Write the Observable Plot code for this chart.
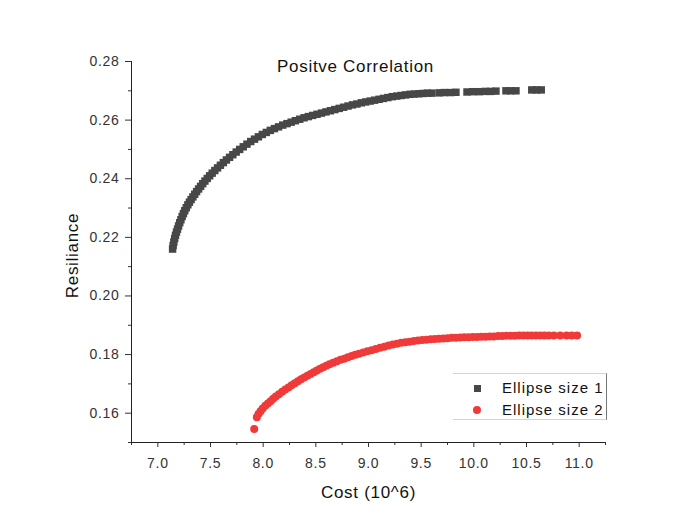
<!DOCTYPE html>
<html><head><meta charset="utf-8">
<script src="https://cdn.jsdelivr.net/npm/d3@7"></script>
<script src="https://cdn.jsdelivr.net/npm/@observablehq/plot@0.6"></script>
<style>
body{margin:0;background:#fff;}
#wrap{position:relative;width:688px;height:527px;font-family:"Liberation Sans",Arial,sans-serif;}
#wrap svg text{letter-spacing:0.7px;}
.legend{position:absolute;left:453px;top:373px;width:154px;height:47px;border-top:1px solid #d4d4d4;border-bottom:1px solid #d4d4d4;border-right:1px solid #777;box-sizing:border-box;}
.row{position:absolute;left:0;height:20px;line-height:20px;font-size:15px;letter-spacing:1px;color:#111;}
.mk{position:absolute;}
.txt{position:absolute;left:49px;top:0;white-space:nowrap;}
</style>
</head><body>
<div id="wrap"></div>
<script>
// Series "Ellipse size 1" (gray squares)
const s1X = [7.140,7.145,7.152,7.160,7.168,7.177,7.187,7.197,7.208,7.219,7.231,7.243,7.256,7.270,7.285,7.300,7.316,7.333,7.350,7.368,7.387,7.406,7.426,7.447,7.469,7.492,7.516,7.541,7.567,7.594,7.622,7.651,7.681,7.712,7.744,7.777,7.811,7.846,7.882,7.918,7.955,7.992,8.030,8.068,8.107,8.146,8.186,8.226,8.266,8.306,8.347,8.388,8.429,8.470,8.512,8.554,8.596,8.638,8.680,8.722,8.764,8.806,8.848,8.890,8.932,8.974,9.016,9.058,9.100,9.142,9.184,9.226,9.268,9.310,9.352,9.394,9.436,9.478,9.520,9.560,9.600,9.670,9.720,9.780,9.830,9.935,9.990,10.050,10.110,10.160,10.210,10.305,10.350,10.400,10.550,10.595,10.640];
const s1Y = [0.2160,0.2172,0.2184,0.2196,0.2207,0.2218,0.2228,0.2239,0.2250,0.2260,0.2271,0.2281,0.2291,0.2301,0.2311,0.2320,0.2329,0.2338,0.2347,0.2356,0.2365,0.2374,0.2383,0.2392,0.2401,0.2410,0.2419,0.2428,0.2437,0.2446,0.2455,0.2464,0.2473,0.2482,0.2491,0.2500,0.2509,0.2518,0.2527,0.2535,0.2543,0.2551,0.2558,0.2565,0.2571,0.2577,0.2583,0.2588,0.2593,0.2598,0.2603,0.2608,0.2612,0.2616,0.2620,0.2624,0.2628,0.2632,0.2636,0.2640,0.2644,0.2648,0.2652,0.2655,0.2659,0.2662,0.2665,0.2668,0.2671,0.2674,0.2677,0.2680,0.2682,0.2684,0.2686,0.2688,0.2689,0.2690,0.2691,0.2692,0.2692,0.2693,0.2694,0.2694,0.2695,0.2696,0.2697,0.2697,0.2698,0.2698,0.2699,0.2700,0.2700,0.2700,0.2703,0.2703,0.2703];
// Series "Ellipse size 2" (red circles)
const s2X = [7.915,7.940,7.955,7.975,7.995,8.020,8.045,8.070,8.095,8.120,8.150,8.180,8.210,8.240,8.270,8.300,8.330,8.360,8.390,8.420,8.450,8.480,8.510,8.540,8.570,8.600,8.630,8.665,8.700,8.735,8.770,8.805,8.840,8.875,8.910,8.950,8.990,9.030,9.070,9.110,9.150,9.190,9.230,9.270,9.310,9.350,9.390,9.430,9.470,9.510,9.550,9.590,9.630,9.670,9.710,9.750,9.790,9.830,9.870,9.910,9.950,9.990,10.030,10.070,10.110,10.150,10.190,10.230,10.270,10.310,10.350,10.390,10.430,10.470,10.510,10.550,10.590,10.630,10.670,10.710,10.760,10.820,10.880,10.930,10.980];
const s2Y = [0.1546,0.1586,0.1597,0.1607,0.1616,0.1625,0.1633,0.1641,0.1649,0.1657,0.1665,0.1673,0.1681,0.1688,0.1695,0.1702,0.1709,0.1716,0.1722,0.1728,0.1734,0.1740,0.1746,0.1752,0.1757,0.1762,0.1767,0.1772,0.1777,0.1782,0.1786,0.1791,0.1795,0.1799,0.1803,0.1807,0.1811,0.1815,0.1819,0.1823,0.1827,0.1831,0.1834,0.1837,0.1840,0.1842,0.1844,0.1846,0.1848,0.1850,0.1851,0.1852,0.1853,0.1854,0.1855,0.1856,0.1857,0.1857,0.1858,0.1859,0.1859,0.1860,0.1860,0.1861,0.1861,0.1862,0.1862,0.1863,0.1863,0.1864,0.1864,0.1864,0.1865,0.1865,0.1865,0.1865,0.1865,0.1865,0.1865,0.1865,0.1865,0.1865,0.1865,0.1865,0.1865];

const seriesNames = ["Ellipse size 1", "Ellipse size 2"];
const seriesColors = ["#474747", "#f03a3a"];
const xMajorTicks = [7.0,7.5,8.0,8.5,9.0,9.5,10.0,10.5,11.0];
const xMinorTicks = [6.75,7.25,7.75,8.25,8.75,9.25,9.75,10.25,10.75,11.25];
const yMajorTicks = [0.16,0.18,0.20,0.22,0.24,0.26,0.28];
const yMinorTicks = [0.15,0.17,0.19,0.21,0.23,0.25,0.27];
const xDomain = [6.75, 11.25];
const yDomain = [0.15, 0.28];
const titleText = "Positve Correlation";
const xLabel = "Cost (10^6)";
const yLabel = "Resiliance";

const d1 = s1X.map((x, i) => ({x, y: s1Y[i]}));
const d2 = s2X.map((x, i) => ({x, y: s2Y[i]}));

const chart = Plot.plot({
  width: 688, height: 527,
  marginLeft: 131, marginRight: 83, marginTop: 61, marginBottom: 85,
  x: {domain: xDomain},
  y: {domain: yDomain},
  style: {fontFamily: '"Liberation Sans", Arial, sans-serif', fontSize: "14px", color: "#333", background: "transparent"},
  marks: [
    Plot.axisY({ticks: yMajorTicks, tickSize: 6, tickPadding: 6, tickFormat: d => d.toFixed(2), label: null, fontSize: 14}),
    Plot.axisY({ticks: yMinorTicks, tickSize: 3, tickFormat: () => "", label: null}),
    Plot.axisX({ticks: xMajorTicks, tickSize: 5, tickPadding: 11, tickFormat: d => d.toFixed(1), label: null, fontSize: 14}),
    Plot.axisX({ticks: xMinorTicks, tickSize: 3, tickFormat: () => "", label: null}),
    Plot.ruleX([xDomain[0]], {stroke: "#222"}),
    Plot.ruleY([yDomain[0]], {stroke: "#222"}),
    Plot.dot(d1, {x: "x", y: "y", symbol: "square", r: 4.2, fill: seriesColors[0], stroke: "none"}),
    Plot.dot(d2, {x: "x", y: "y", symbol: "circle", r: 4, fill: seriesColors[1], stroke: "none"}),
    Plot.text([titleText], {text: d => d, frameAnchor: "top", dx: -13, dy: 5, lineAnchor: "middle", fontSize: 17, fill: "#111"}),
    Plot.text([xLabel], {text: d => d, frameAnchor: "bottom", dy: 50, lineAnchor: "middle", fontSize: 17, fill: "#111"}),
    Plot.text([yLabel], {text: d => d, frameAnchor: "left", rotate: -90, dx: -58.5, dy: 3.5, textAnchor: "middle", lineAnchor: "middle", fontSize: 17, fill: "#111"})
  ]
});

const wrap = document.getElementById("wrap");
wrap.appendChild(chart);

const legend = document.createElement("div");
legend.className = "legend";
seriesNames.forEach((name, i) => {
  const row = document.createElement("div");
  row.className = "row";
  row.style.top = (i === 0 ? 4 : 26) + "px";
  row.style.width = "150px";
  const mk = document.createElement("div");
  mk.className = "mk";
  if (i === 0) {
    mk.style.cssText = `left:21px;top:7px;width:7px;height:7px;background:${seriesColors[0]};`;
  } else {
    mk.style.cssText = `left:20px;top:6px;width:8px;height:8px;border-radius:50%;background:${seriesColors[1]};`;
  }
  const t = document.createElement("div");
  t.className = "txt";
  t.textContent = name;
  row.appendChild(mk);
  row.appendChild(t);
  legend.appendChild(row);
});
wrap.appendChild(legend);
</script>
</body></html>
